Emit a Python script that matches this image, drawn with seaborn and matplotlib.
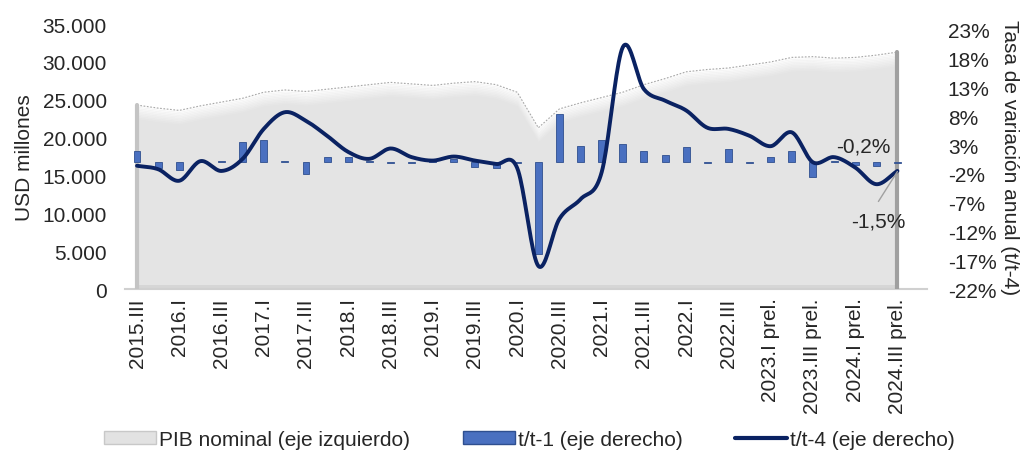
import numpy as np
import pandas as pd
import matplotlib
matplotlib.use('Agg')
import matplotlib.pyplot as plt
import seaborn as sns
from matplotlib.patches import Patch
from matplotlib.lines import Line2D

# Datos trimestrales
trimestres = ['2015.III', '2015.IV', '2016.I', '2016.II', '2016.III', '2016.IV',
              '2017.I', '2017.II', '2017.III', '2017.IV', '2018.I', '2018.II',
              '2018.III', '2018.IV', '2019.I', '2019.II', '2019.III', '2019.IV',
              '2020.I', '2020.II', '2020.III', '2020.IV', '2021.I', '2021.II',
              '2021.III', '2021.IV', '2022.I', '2022.II', '2022.III', '2022.IV',
              '2023.I prel.', '2023.II prel.', '2023.III prel.', '2023.IV prel.',
              '2024.I prel.', '2024.II prel.', '2024.III prel.']

pib_nominal = [24300, 23900, 23600, 24200, 24700, 25200, 26000, 26300, 26100, 26400,
               26700, 27000, 27300, 27100, 26900, 27200, 27400, 27000, 26000, 21300,
               23800, 24600, 25300, 26000, 27000, 27800, 28700, 29000, 29200, 29600,
               30000, 30600, 30700, 30500, 30600, 30900, 31300]

tt1 = [1.9, -1.0, -1.4, 0.3, 0.3, 3.5, 3.8, 0.3, -2.0, 1.0,
       1.0, 0.3, -0.1, -0.2, 0.2, 0.5, -0.8, -1.0, -0.2, -15.9,
       8.4, 2.9, 3.8, 3.2, 2.0, 1.2, 2.6, -0.2, 2.3, -0.2,
       1.0, 2.0, -2.6, 0.3, -0.4, -0.6, -0.2]

tt4 = [-0.6, -1.2, -3.2, 0.2, -1.5, 0.6, 5.8, 8.7, 7.2, 4.6,
       1.8, 0.6, 2.4, 0.9, 0.3, 1.0, 0.3, -0.3, -1.0, -18.0,
       -9.8, -6.4, -1.7, 20.0, 12.7, 10.7, 9.0, 6.0, 5.8, 4.6,
       2.8, 5.2, 0.0, 0.9, -0.9, -3.8, -1.5]

df = pd.DataFrame({'trimestre': trimestres, 'pib': pib_nominal, 'tt1': tt1, 'tt4': tt4})
df['pos'] = np.arange(len(df))

# Curva suavizada tipo Excel (Catmull-Rom) solo para dibujar la línea t/t-4
def suavizar(y, n=20):
    y = np.asarray(y, dtype=float)
    p = np.concatenate([[2 * y[0] - y[1]], y, [2 * y[-1] - y[-2]]])
    xs, ys = [], []
    for i in range(len(y) - 1):
        p0, p1, p2, p3 = p[i], p[i + 1], p[i + 2], p[i + 3]
        t = np.linspace(0, 1, n, endpoint=False)
        yy = 0.5 * ((2 * p1) + (-p0 + p2) * t + (2 * p0 - 5 * p1 + 4 * p2 - p3) * t ** 2
                    + (-p0 + 3 * p1 - 3 * p2 + p3) * t ** 3)
        xs.append(i + t)
        ys.append(yy)
    xs.append([len(y) - 1])
    ys.append([y[-1]])
    return np.concatenate(xs), np.concatenate(ys)

sns.set_style('white')
plt.rcParams['font.family'] = ['Liberation Sans', 'DejaVu Sans']

fig = plt.figure(figsize=(10.26, 4.56), dpi=100)
ax = fig.add_axes([0.1218, 0.364, 0.7817, 0.581])
ax2 = ax.twinx()

x = df['pos'].values
pib = df['pib'].values

# Área PIB nominal con efecto de sombreado
ax.fill_between(x, 0, pib, color='#e4e4e4', linewidth=0, zorder=1)
for k, a in enumerate(np.linspace(0.9, 0.0, 10)):
    ax.fill_between(x, pib - 200 * (k + 1), pib - 200 * k, color='white', alpha=a, linewidth=0, zorder=2)
ax.plot(x, pib, color='#a8a8a8', linewidth=0.8, linestyle=(0, (1.5, 1.5)), zorder=3)
ax.fill_between(x, 0, 500, color='#d6d6d6', linewidth=0, zorder=2)
ax.plot([x[0], x[0]], [0, pib[0]], color='#c4c4c4', linewidth=3, zorder=3)
ax.plot([x[-1], x[-1]], [0, pib[-1]], color='#a0a0a0', linewidth=3, zorder=3)

ax.set_ylim(0, 35000)
ax.set_yticks(range(0, 35001, 5000))
ax.set_yticklabels([f'{v:,}'.replace(',', '.') for v in range(0, 35001, 5000)], fontsize=15)
ax.set_ylabel('USD millones', fontsize=15, labelpad=6)

# Barras t/t-1
sns.barplot(data=df, x='pos', y='tt1', ax=ax2, color='#4a70c0', width=0.33,
            saturation=1, edgecolor='#2f4f8f', linewidth=0.6, zorder=4)

# Línea t/t-4
xs, ys = suavizar(tt4)
ax2.plot(xs, ys, color='#0a2262', linewidth=2.8, zorder=5, solid_capstyle='round')

ax2.set_ylim(-22, 24)
ax2.set_yticks(range(-22, 24, 5))
ax2.set_yticklabels([f'{v}%' for v in range(-22, 24, 5)], fontsize=15)
ax2.set_ylabel('Tasa de variación anual (t/t-4)', fontsize=15, rotation=270, labelpad=16)
ax2.set_xlabel('')

ax.set_xlim(-0.57, 37.4)
ax2.set_xlim(-0.57, 37.4)
ax.set_xticks(x[::2])
ax.set_xticklabels(trimestres[::2], rotation=90, fontsize=15)
ax.set_xlabel('')

for a in (ax, ax2):
    for s in a.spines.values():
        s.set_visible(False)
    a.tick_params(length=0)
ax.tick_params(axis='x', pad=6)
ax.tick_params(axis='y', pad=13)
ax2.tick_params(axis='y', pad=15)
ax.spines['bottom'].set_visible(True)
ax.spines['bottom'].set_color('#d0d0d0')
ax.spines['bottom'].set_linewidth(1.5)

# Etiquetas de datos
ax2.text(34.4, 2.8, '-0,2%', fontsize=15, ha='center', va='center', zorder=6)
ax2.text(35.1, -10.2, '-1,5%', fontsize=15, ha='center', va='center', zorder=6)
ax2.plot([35.1, 36], [-6.8, -1.6], color='#a0a0a0', linewidth=1, zorder=6)

handles = [Patch(facecolor='#e2e2e2', edgecolor='#c8c8c8'),
           Patch(facecolor='#4a70c0', edgecolor='#2f4f8f'),
           Line2D([0], [0], color='#0a2262', linewidth=3)]
labels = ['PIB nominal (eje izquierdo)', 't/t-1 (eje derecho)', 't/t-4 (eje derecho)']
fig.legend(handles, labels, loc='center', bbox_to_anchor=(0.516, 0.035), ncol=3,
           frameon=False, fontsize=15, handlelength=2.5, handleheight=0.6,
           handletextpad=0.15, columnspacing=2.5)

fig.savefig('out.png', dpi=100)
